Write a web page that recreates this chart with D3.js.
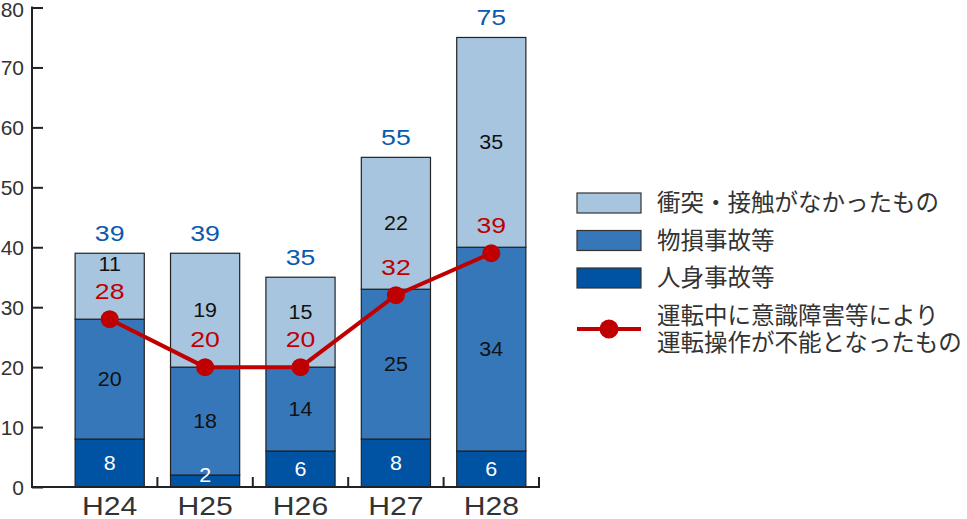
<!DOCTYPE html>
<html>
<head>
<meta charset="utf-8">
<script src="https://cdn.jsdelivr.net/npm/d3@7"></script>
<style>
  body { margin: 0; background: #fff; }
  svg { display: block; }
  text { font-family: "Liberation Sans", Arial, sans-serif; }
  .jp { font-family: "Noto Sans CJK JP", "Noto Sans", sans-serif; }
</style>
</head>
<body>
<div id="chart"></div>
<script>
// Chart data
var years = ["H24", "H25", "H26", "H27", "H28"];
var injury = [8, 2, 6, 8, 6];          // 人身事故等
var property = [20, 18, 14, 25, 34];   // 物損事故等
var noContact = [11, 19, 15, 22, 35];  // 衝突・接触がなかったもの
var totals = [39, 39, 35, 55, 75];
var impaired = [28, 20, 20, 32, 39];   // 運転中に意識障害等により運転操作が不能となったもの
var yTicks = [0, 10, 20, 30, 40, 50, 60, 70, 80];

var seriesKeys = ["injury", "property", "noContact"];
var seriesNames = {
  injury: "人身事故等",
  property: "物損事故等",
  noContact: "衝突・接触がなかったもの"
};
var colors = {injury: "#0052a3", property: "#3677ba", noContact: "#a8c5e0"};
var lineColor = "#c00000";
var totalColor = "#0a5aad";

var divWidth = 967,
    divHeight = 519,
    axisX = 32,
    plotTop = 7.5,
    plotBottom = 487,
    bandStart = 62,
    bandEnd = 539;

var svg = d3.select("#chart")
  .append("svg")
  .attr("width", divWidth)
  .attr("height", divHeight);

var xScale = d3.scaleBand().domain(years).range([bandStart, bandEnd]).padding(0);
var yScale = d3.scaleLinear().domain([0, 80]).range([plotBottom, plotTop]);
var barWidth = xScale.bandwidth() * 0.725;
var cx = d => xScale(d) + xScale.bandwidth() / 2;

// wide number glyphs, as in the original artwork
function wide(sx) {
  return function (sel) {
    sel.attr("transform", function () {
      var t = d3.select(this);
      var x = +t.attr("x"), y = +t.attr("y");
      return `translate(${x},${y}) scale(${sx},1) translate(${-x},${-y})`;
    });
  };
}

// Wide rows for stacking
var rows = years.map(function (y, i) {
  return {year: y, injury: injury[i], property: property[i], noContact: noContact[i]};
});
var series = d3.stack().keys(seriesKeys)(rows);
series.forEach(s => s.forEach(d => { d.key = s.key; }));

// Bars
svg.selectAll("g.layer")
  .data(series)
  .join("g")
    .attr("class", "layer")
    .attr("fill", d => colors[d.key])
  .selectAll("rect")
  .data(d => d)
  .join("rect")
    .attr("x", d => xScale(d.data.year) + (xScale.bandwidth() - barWidth) / 2)
    .attr("y", d => yScale(d[1]))
    .attr("width", barWidth)
    .attr("height", d => yScale(d[0]) - yScale(d[1]))
    .attr("stroke", "#222")
    .attr("stroke-width", 1.2);

// Axes
var yAxis = d3.axisRight(yScale).tickValues(yTicks).tickSize(11).tickFormat("");
svg.append("g")
  .attr("transform", `translate(${axisX},0)`)
  .call(yAxis)
  .call(g => g.select(".domain").remove())
  .call(g => g.selectAll("line").attr("stroke", "#222").attr("stroke-width", 2));

svg.append("g")
  .selectAll("text")
  .data(yTicks)
  .join("text")
    .attr("x", 24)
    .attr("y", d => Math.max(yScale(d), 9.5))
    .attr("dy", "0.36em")
    .attr("text-anchor", "end")
    .attr("font-size", 21)
    .attr("fill", "#333")
    .text(d => d);

svg.append("line")
  .attr("x1", axisX).attr("x2", axisX)
  .attr("y1", plotTop - 1).attr("y2", plotBottom + 1)
  .attr("stroke", "#222").attr("stroke-width", 2);
svg.append("line")
  .attr("x1", axisX).attr("x2", bandEnd + 1)
  .attr("y1", plotBottom).attr("y2", plotBottom)
  .attr("stroke", "#222").attr("stroke-width", 2);

// Category boundary ticks
svg.append("g")
  .selectAll("line")
  .data(years)
  .join("line")
    .attr("x1", d => xScale(d) + xScale.bandwidth())
    .attr("x2", d => xScale(d) + xScale.bandwidth())
    .attr("y1", plotBottom)
    .attr("y2", plotBottom - 10)
    .attr("stroke", "#222")
    .attr("stroke-width", 2);

svg.append("g")
  .selectAll("text")
  .data(years)
  .join("text")
    .attr("x", cx)
    .attr("y", 515)
    .attr("text-anchor", "middle")
    .attr("font-size", 26)
    .attr("fill", "#333")
    .text(d => d)
    .call(wide(1.16));

// Segment labels
svg.append("g")
  .selectAll("text")
  .data(series.flat())
  .join("text")
    .attr("x", d => cx(d.data.year))
    .attr("y", d => {
      var mid = (yScale(d[0]) + yScale(d[1])) / 2;
      if (d.key === "injury") return Math.min(mid, plotBottom - 12);
      if (d.key === "noContact") {
        var i = years.indexOf(d.data.year);
        return Math.min(mid, yScale(impaired[i]) - 28 - 27);
      }
      return mid;
    })
    .attr("dy", "0.36em")
    .attr("text-anchor", "middle")
    .attr("font-size", 19.5)
    .attr("fill", d => d.key === "injury" ? "#fff" : "#111")
    .text(d => d[1] - d[0])
    .call(wide(1.1));

// Totals
svg.append("g")
  .selectAll("text")
  .data(years)
  .join("text")
    .attr("x", cx)
    .attr("y", (d, i) => yScale(totals[i]) - 20)
    .attr("dy", "0.36em")
    .attr("text-anchor", "middle")
    .attr("font-size", 21.5)
    .attr("fill", totalColor)
    .text((d, i) => totals[i])
    .call(wide(1.24));

// Line
var line = d3.line()
  .x(d => cx(d.year))
  .y(d => yScale(d.value));
var linePoints = years.map((y, i) => ({year: y, value: impaired[i]}));

svg.append("path")
  .datum(linePoints)
  .attr("d", line)
  .attr("fill", "none")
  .attr("stroke", lineColor)
  .attr("stroke-width", 4);

svg.append("g")
  .selectAll("circle")
  .data(linePoints)
  .join("circle")
    .attr("cx", d => cx(d.year))
    .attr("cy", d => yScale(d.value))
    .attr("r", 9)
    .attr("fill", lineColor);

svg.append("g")
  .selectAll("text")
  .data(linePoints)
  .join("text")
    .attr("x", d => cx(d.year))
    .attr("y", d => yScale(d.value) - 28)
    .attr("dy", "0.36em")
    .attr("text-anchor", "middle")
    .attr("font-size", 21.5)
    .attr("fill", lineColor)
    .text(d => d.value)
    .call(wide(1.24));

// Legend
var legendKeys = ["noContact", "property", "injury"];
var legend = svg.append("g").attr("transform", "translate(577,193)");
legendKeys.forEach(function (k, i) {
  var g = legend.append("g").attr("transform", `translate(0,${i * 37.5})`);
  g.append("rect")
    .attr("width", 64).attr("height", 20)
    .attr("fill", colors[k])
    .attr("stroke", "#333").attr("stroke-width", 1.2);
  g.append("text")
    .attr("class", "jp")
    .attr("x", 80).attr("y", 10)
    .attr("dy", "0.36em")
    .attr("font-size", 23.5)
    .attr("fill", "#333")
    .text(seriesNames[k]);
});

var lg = svg.append("g").attr("transform", "translate(577,329)");
lg.append("line")
  .attr("x1", 0).attr("x2", 64)
  .attr("stroke", lineColor).attr("stroke-width", 4);
lg.append("circle")
  .attr("cx", 32).attr("r", 9.5)
  .attr("fill", lineColor);
lg.append("text")
  .attr("class", "jp")
  .attr("x", 80).attr("y", -13)
  .attr("dy", "0.36em")
  .attr("font-size", 23.5)
  .attr("fill", "#333")
  .text("運転中に意識障害等により");
lg.append("text")
  .attr("class", "jp")
  .attr("x", 80).attr("y", 14)
  .attr("dy", "0.36em")
  .attr("font-size", 23.5)
  .attr("fill", "#333")
  .text("運転操作が不能となったもの");
</script>
</body>
</html>
